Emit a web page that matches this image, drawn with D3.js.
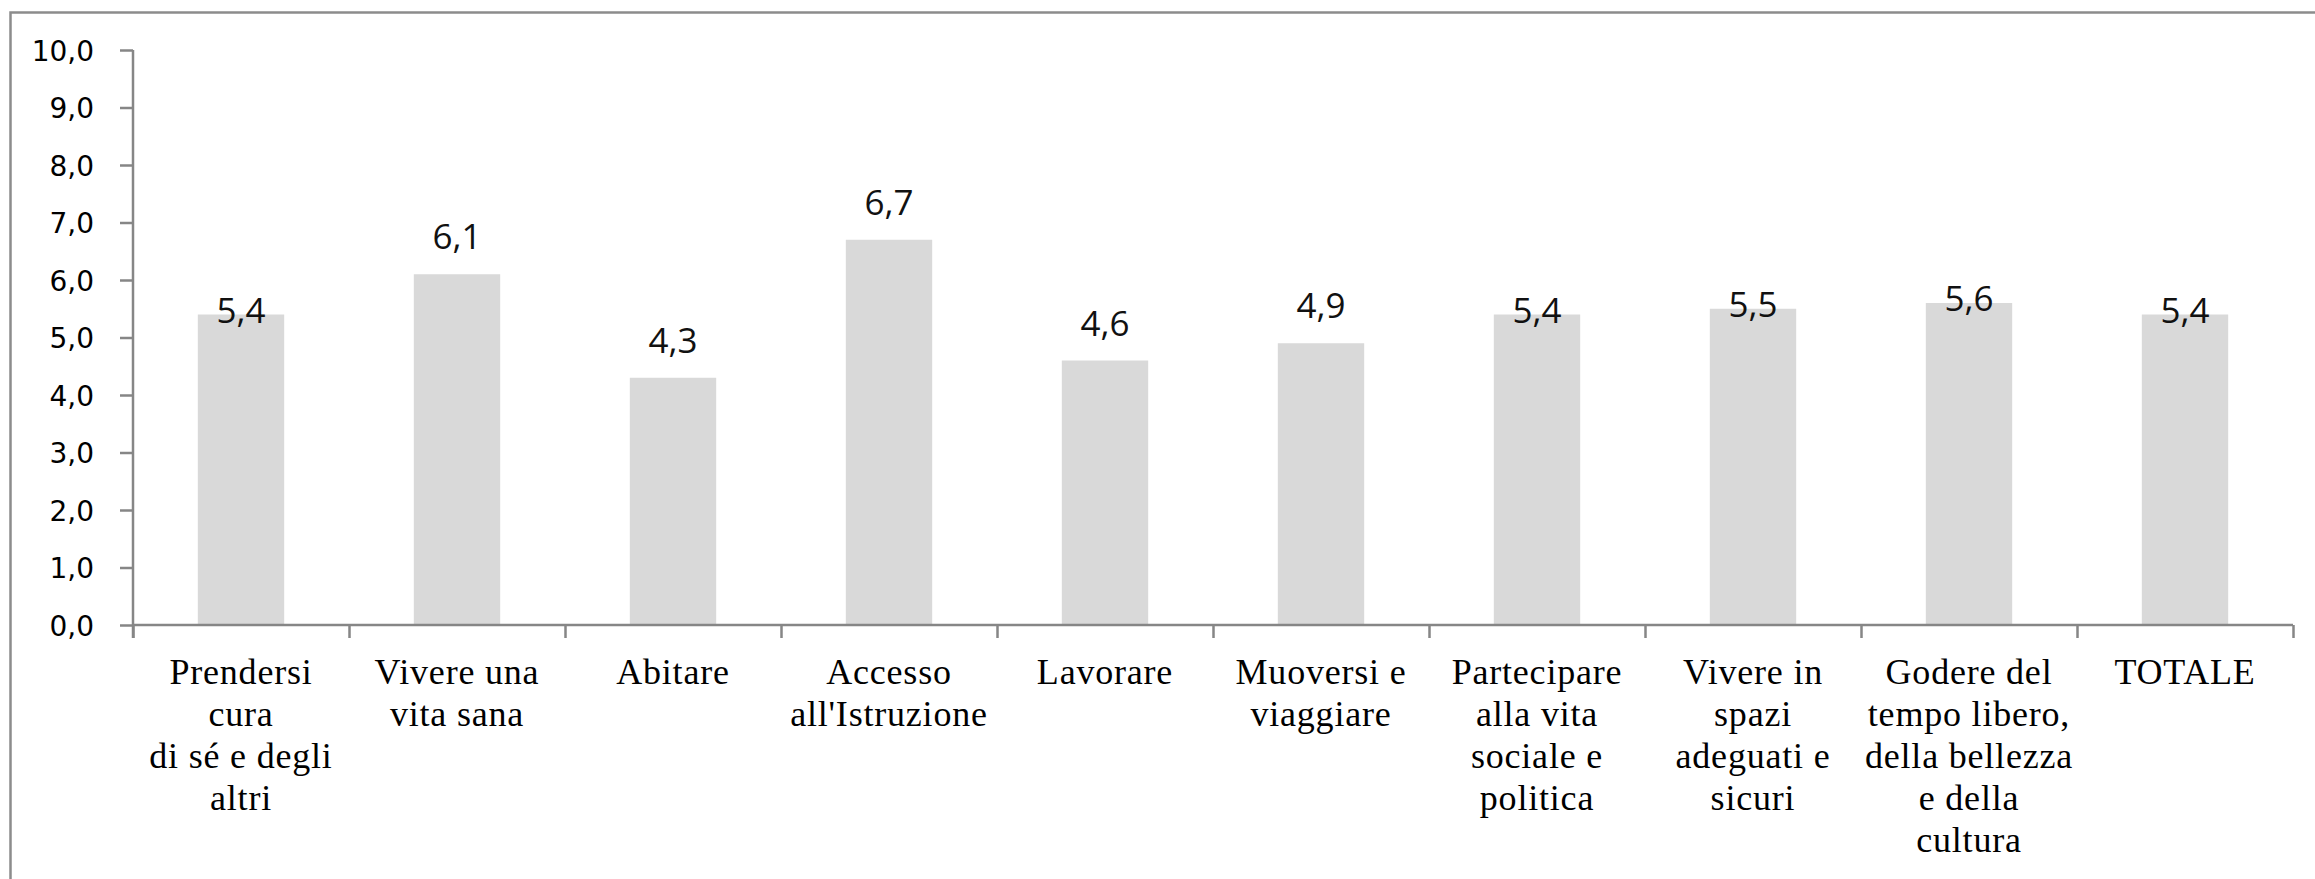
<!DOCTYPE html>
<html>
<head>
<meta charset="utf-8">
<script src="https://cdn.jsdelivr.net/npm/d3@7"></script>
<style>
  body { margin: 0; background: #fff; }
  svg { display: block; }
</style>
</head>
<body>
<div id="chart"></div>
<script>
// categories (one array of lines per label)
var categories = [
  ["Prendersi", "cura", "di sé e degli", "altri"],
  ["Vivere una", "vita sana"],
  ["Abitare"],
  ["Accesso", "all'Istruzione"],
  ["Lavorare"],
  ["Muoversi e", "viaggiare"],
  ["Partecipare", "alla vita", "sociale e", "politica"],
  ["Vivere in", "spazi", "adeguati e", "sicuri"],
  ["Godere del", "tempo libero,", "della bellezza", "e della", "cultura"],
  ["TOTALE"]
];
var values = [5.4, 6.1, 4.3, 6.7, 4.6, 4.9, 5.4, 5.5, 5.6, 5.4];
// where the value label sits: above the bar or on its top edge
var labelPlace = ["top", "out", "out", "out", "out", "out", "top", "top", "top", "top"];
var yTicks = [0, 1, 2, 3, 4, 5, 6, 7, 8, 9, 10];

var W = 2315, H = 879;
var margin = {top: 50, right: 22, bottom: 254, left: 133};
var width = W - margin.left - margin.right,
    height = H - margin.top - margin.bottom;

var svg = d3.select("#chart").append("svg")
  .attr("width", W)
  .attr("height", H);

// outer chart frame (runs off the page on the right and bottom)
svg.append("rect")
  .attr("x", 10.5).attr("y", 12.5)
  .attr("width", W + 100).attr("height", H + 100)
  .attr("fill", "none")
  .attr("stroke", "#8c8c8c")
  .attr("stroke-width", 2.5);

var g = svg.append("g")
  .attr("transform", "translate(" + margin.left + "," + margin.top + ")");

var idx = d3.range(values.length);
var x = d3.scaleBand()
  .domain(idx)
  .range([0, width])
  .paddingInner(0.6)
  .paddingOuter(0.3);

var y = d3.scaleLinear()
  .domain([0, 10])
  .range([height, 0]);

var fmt = function(v) { return d3.format(".1f")(v).replace(".", ","); };

// bars
g.selectAll("rect.bar")
  .data(values)
  .enter().append("rect")
    .attr("class", "bar")
    .attr("x", function(d, i) { return x(i); })
    .attr("y", function(d) { return y(d); })
    .attr("width", x.bandwidth())
    .attr("height", function(d) { return height - y(d); })
    .attr("fill", "#d9d9d9");

// y axis
var yAxis = g.append("g")
  .call(d3.axisLeft(y).tickValues(yTicks).tickSize(13).tickPadding(26).tickFormat(fmt));
yAxis.select(".domain").attr("stroke", "#868686").attr("stroke-width", 2.5)
  .attr("d", "M0,0V" + (height + 13));
yAxis.selectAll(".tick line").attr("stroke", "#868686").attr("stroke-width", 2.5);
yAxis.selectAll("text")
  .attr("font-family", "DejaVu Sans")
  .attr("font-size", 28)
  .attr("fill", "#000")
  .attr("dy", "0.36em");

// x axis line and ticks at band boundaries
var xb = d3.scaleLinear().domain([0, values.length]).range([0, width]);
var xAxis = g.append("g")
  .attr("transform", "translate(0," + height + ")")
  .call(d3.axisBottom(xb).ticks(values.length).tickSize(13).tickFormat(""));
xAxis.select(".domain").attr("stroke", "#868686").attr("stroke-width", 2.5)
  .attr("d", "M0,0H" + width);
xAxis.selectAll(".tick line").attr("stroke", "#868686").attr("stroke-width", 2.5);

// category labels
var lineH = 42;
g.selectAll("text.cat")
  .data(categories)
  .enter().append("text")
    .attr("class", "cat")
    .attr("text-anchor", "middle")
    .attr("font-family", "Liberation Serif")
    .attr("font-size", 36)
    .attr("letter-spacing", 0.8)
    .attr("fill", "#000")
    .each(function(lines, i) {
      var t = d3.select(this);
      lines.forEach(function(l, k) {
        t.append("tspan")
          .attr("x", x(i) + x.bandwidth() / 2)
          .attr("y", height + 59 + k * lineH)
          .text(l);
      });
    });

// value labels
g.selectAll("text.val")
  .data(values)
  .enter().append("text")
    .attr("class", "val")
    .attr("text-anchor", "middle")
    .attr("font-family", "Open Sans")
    .attr("font-size", 35)
    .attr("fill", "#111")
    .attr("x", function(d, i) { return x(i) + x.bandwidth() / 2; })
    .attr("y", function(d, i) { return labelPlace[i] === "out" ? y(d) - 25 : y(d) + 8; })
    .text(fmt);
</script>
</body>
</html>
